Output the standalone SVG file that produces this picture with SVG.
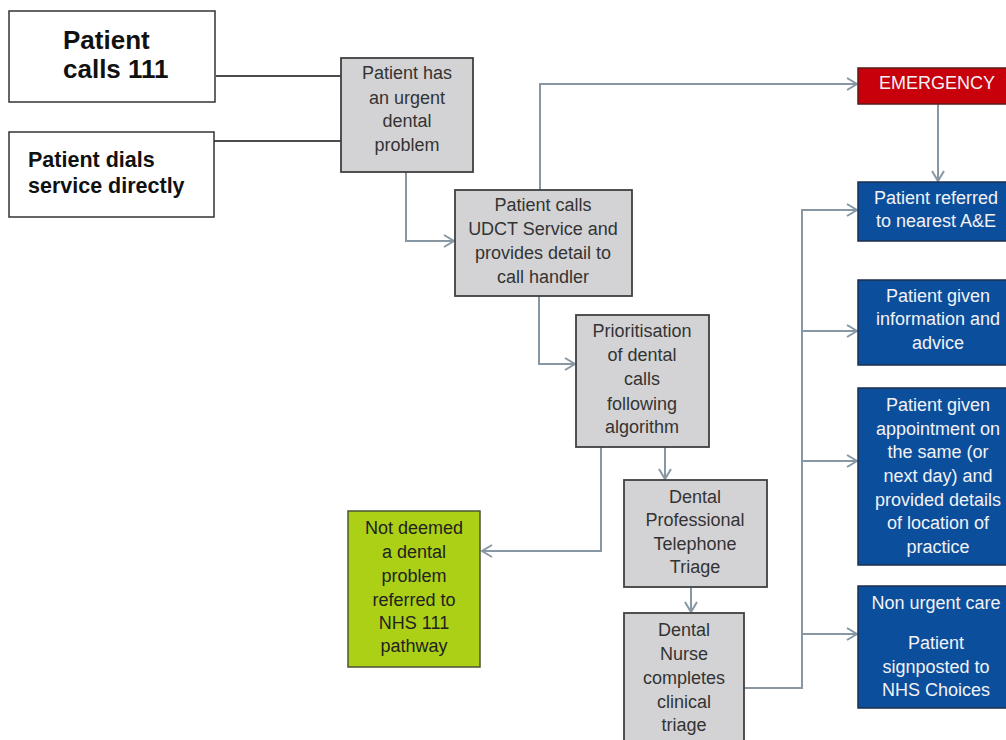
<svg xmlns="http://www.w3.org/2000/svg" width="1006" height="740" viewBox="0 0 1006 740">
<style>
.wb{fill:#fff;stroke:#333;stroke-width:1.5}
.gb{fill:#d3d3d5;stroke:#404040;stroke-width:1.8}
.bb{fill:#0b4f9c;stroke:#1d2f4c;stroke-width:1.5}
.rb{fill:#c8000b;stroke:#5a1a1a;stroke-width:1.5}
.lb{fill:#acd016;stroke:#4a5530;stroke-width:1.5}
text{font-family:"Liberation Sans",Arial,sans-serif;text-anchor:middle;font-size:18px}
.t{fill:#333}
.w{fill:#f2f2f6}
.k{fill:#111;font-weight:bold;text-anchor:start}
.c{fill:none;stroke:#8797a3;stroke-width:2}
.bl{fill:none;stroke:#111;stroke-width:1.5}
</style>
<defs>
<marker id="ah" markerUnits="userSpaceOnUse" markerWidth="14" markerHeight="16" refX="11" refY="7" orient="auto">
<path d="M1,1 L11,7 L1,13" fill="none" stroke="#8797a3" stroke-width="2"/>
</marker>
</defs>
<g id="connectors">
<path class="bl" d="M216,76 H341"/>
<path class="bl" d="M214,141 H341"/>
<path class="c" d="M406,172 V241 H454" marker-end="url(#ah)"/>
<path class="c" d="M540,190 V84 H857" marker-end="url(#ah)"/>
<path class="c" d="M938,104 V181" marker-end="url(#ah)"/>
<path class="c" d="M539,296 V364 H575" marker-end="url(#ah)"/>
<path class="c" d="M601,447 V551 H482" marker-end="url(#ah)"/>
<path class="c" d="M665,447 V479" marker-end="url(#ah)"/>
<path class="c" d="M691,587 V612" marker-end="url(#ah)"/>
<path class="c" d="M744,688 H802 V210 H857" marker-end="url(#ah)"/>
<path class="c" d="M802,331 H857" marker-end="url(#ah)"/>
<path class="c" d="M802,461 H857" marker-end="url(#ah)"/>
<path class="c" d="M802,634 H857" marker-end="url(#ah)"/>
</g>
<g id="n-calls111">
<rect class="wb" x="9" y="11" width="206" height="91"/>
<text class="k" x="63" y="49" style="font-size:26px">Patient</text>
<text class="k" x="63" y="78" style="font-size:26px">calls 111</text>
</g>
<g id="n-dials">
<rect class="wb" x="9" y="132" width="205" height="85"/>
<text class="k" x="28" y="167" style="font-size:21.5px">Patient dials</text>
<text class="k" x="28" y="193" style="font-size:21.5px">service directly</text>
</g>
<g id="n-urgent">
<rect class="gb" x="341" y="58" width="132" height="114"/>
<text class="t" x="407" y="79">Patient has</text>
<text class="t" x="407" y="104">an urgent</text>
<text class="t" x="407" y="127">dental</text>
<text class="t" x="407" y="151">problem</text>
</g>
<g id="n-udct">
<rect class="gb" x="455" y="190" width="177" height="106"/>
<text class="t" x="543" y="211">Patient calls</text>
<text class="t" x="543" y="235">UDCT Service and</text>
<text class="t" x="543" y="259">provides detail to</text>
<text class="t" x="543" y="283">call handler</text>
</g>
<g id="n-prior">
<rect class="gb" x="576" y="315" width="133" height="132"/>
<text class="t" x="642" y="337">Prioritisation</text>
<text class="t" x="642" y="361">of dental</text>
<text class="t" x="642" y="385">calls</text>
<text class="t" x="642" y="410">following</text>
<text class="t" x="642" y="433">algorithm</text>
</g>
<g id="n-phone">
<rect class="gb" x="624" y="480" width="143" height="107"/>
<text class="t" x="695" y="503">Dental</text>
<text class="t" x="695" y="526">Professional</text>
<text class="t" x="695" y="550">Telephone</text>
<text class="t" x="695" y="573">Triage</text>
</g>
<g id="n-nurse">
<rect class="gb" x="624" y="613" width="120" height="135"/>
<text class="t" x="684" y="636">Dental</text>
<text class="t" x="684" y="660">Nurse</text>
<text class="t" x="684" y="684">completes</text>
<text class="t" x="684" y="708">clinical</text>
<text class="t" x="684" y="731">triage</text>
</g>
<g id="n-notdental">
<rect class="lb" x="348" y="511" width="132" height="156"/>
<text class="t" x="414" y="534" style="fill:#222">Not deemed</text>
<text class="t" x="414" y="558" style="fill:#222">a dental</text>
<text class="t" x="414" y="582" style="fill:#222">problem</text>
<text class="t" x="414" y="606" style="fill:#222">referred to</text>
<text class="t" x="414" y="629" style="fill:#222">NHS 111</text>
<text class="t" x="414" y="652" style="fill:#222">pathway</text>
</g>
<g id="n-emergency">
<rect class="rb" x="858" y="68" width="152" height="36"/>
<text class="w" x="937" y="89">EMERGENCY</text>
</g>
<g id="n-ae">
<rect class="bb" x="858" y="182" width="152" height="59"/>
<text class="w" x="936" y="204">Patient referred</text>
<text class="w" x="936" y="227">to nearest A&amp;E</text>
</g>
<g id="n-info">
<rect class="bb" x="858" y="280" width="152" height="85"/>
<text class="w" x="938" y="302">Patient given</text>
<text class="w" x="938" y="325">information and</text>
<text class="w" x="938" y="349">advice</text>
</g>
<g id="n-appt">
<rect class="bb" x="858" y="388" width="152" height="177"/>
<text class="w" x="938" y="411">Patient given</text>
<text class="w" x="938" y="435">appointment on</text>
<text class="w" x="938" y="458">the same (or</text>
<text class="w" x="938" y="482">next day) and</text>
<text class="w" x="938" y="506">provided details</text>
<text class="w" x="938" y="529">of location of</text>
<text class="w" x="938" y="553">practice</text>
</g>
<g id="n-nonurgent">
<rect class="bb" x="858" y="586" width="152" height="122"/>
<text class="w" x="936" y="609">Non urgent care</text>
<text class="w" x="936" y="649">Patient</text>
<text class="w" x="936" y="673">signposted to</text>
<text class="w" x="936" y="696">NHS Choices</text>
</g>
</svg>
